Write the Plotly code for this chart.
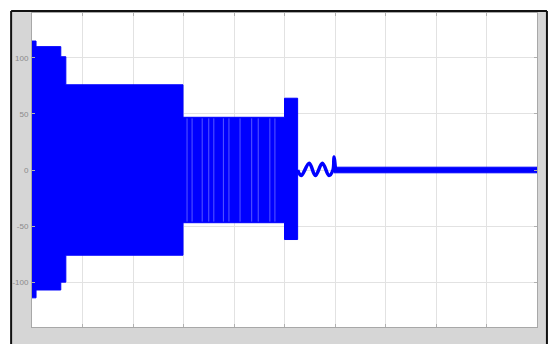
import plotly.graph_objects as go

# Envelope of the high-frequency signal: breakpoints (s) and peak values
env_t = [0.0, 0.008, 0.057, 0.067, 0.299, 0.500, 0.526]
env_upper = [115, 110, 101, 76, 47, 64]
env_lower = [-114, -107, -100, -76, -47, -62]

# Beat streaks visible inside the 47-amplitude section (s)
streak_t = [0.307, 0.317, 0.337, 0.350, 0.360, 0.379, 0.390, 0.412, 0.435,
            0.448, 0.471, 0.481]
streak_amp = 47

# Low-amplitude ripple after the pulse train dies out
ripple_t = [0.526, 0.533, 0.549, 0.561, 0.575, 0.588, 0.596, 0.598, 0.601]
ripple_v = [0, -5, 6, -5, 6, -5, 0, 11.5, 0]

# Residual steady band to the end of the record
tail_t = [0.598, 1.0]
tail_upper = [2.5, 2.5]
tail_lower = [-2.5, -2.5]

y_ticks = [100, 50, 0, -50, -100]
y_labels = ["100", "50", "0", "-50", "-100"]

BLUE = "#0000ff"

fig = go.Figure()


def step_xy(edges, values):
    xs, ys = [], []
    for i, v in enumerate(values):
        xs += [edges[i], edges[i + 1]]
        ys += [v, v]
    return xs, ys


lx, ly = step_xy(env_t, env_lower)
ux, uy = step_xy(env_t, env_upper)
fig.add_trace(go.Scatter(x=ux + lx[::-1], y=uy + ly[::-1], mode="lines",
                         fill="toself", fillcolor=BLUE,
                         line=dict(color=BLUE, width=1), hoverinfo="skip"))

# light vertical streaks from sampling beats
sx, sy = [], []
for t in streak_t:
    sx += [t, t, None]
    sy += [streak_amp - 1, -streak_amp + 1, None]
fig.add_trace(go.Scatter(x=sx, y=sy, mode="lines",
                         line=dict(color="rgba(110,110,255,0.8)", width=1),
                         hoverinfo="skip"))

fig.add_trace(go.Scatter(x=tail_t + tail_t[::-1], y=tail_upper + tail_lower[::-1],
                         mode="lines", fill="toself", fillcolor=BLUE,
                         line=dict(color=BLUE, width=1), hoverinfo="skip"))

fig.add_trace(go.Scatter(x=ripple_t, y=ripple_v, mode="lines",
                         line=dict(color=BLUE, width=3.5, shape="spline"),
                         hoverinfo="skip"))

# Plot area geometry in pixels (552 x 344 page)
L, R, T, B = 29, 537, 12, 327
W, H = R - L, B - T


def px_x(p):
    return (p - L) / W


def px_y(p):
    return (B - p) / H


shapes = [
    # grey window body
    dict(type="rect", xref="paper", yref="paper", layer="below",
         x0=px_x(8), x1=px_x(547), y0=px_y(344), y1=px_y(10),
         fillcolor="#d6d6d6", line=dict(width=0)),
    # white axes background
    dict(type="rect", xref="paper", yref="paper", layer="below",
         x0=0, x1=1, y0=0, y1=1, fillcolor="white", line=dict(width=0)),
    # dark window edges
    dict(type="line", xref="paper", yref="paper", x0=px_x(8), x1=px_x(547),
         y0=px_y(10), y1=px_y(10), line=dict(color="#111111", width=2)),
    dict(type="line", xref="paper", yref="paper", x0=px_x(8), x1=px_x(8),
         y0=px_y(10), y1=px_y(344), line=dict(color="#111111", width=2)),
    dict(type="line", xref="paper", yref="paper", x0=px_x(547), x1=px_x(547),
         y0=px_y(10), y1=px_y(344), line=dict(color="#111111", width=2)),
]

fig.update_layout(
    width=552, height=344,
    margin=dict(l=L, r=552 - R, t=T, b=344 - B),
    paper_bgcolor="white", plot_bgcolor="rgba(0,0,0,0)",
    showlegend=False, shapes=shapes,
    font=dict(family="Liberation Sans", size=8, color="#8a8a8a"),
)
fig.update_xaxes(range=[0, 1], dtick=0.1, showticklabels=False,
                 showgrid=True, gridcolor="#e2e2e2", gridwidth=1,
                 zeroline=False, showline=True, linecolor="#a8a8a8",
                 mirror="ticks", ticks="inside", ticklen=3, tickcolor="#b0b0b0")
fig.update_yaxes(range=[-140, 140], tickvals=y_ticks, ticktext=y_labels,
                 showgrid=True, gridcolor="#e2e2e2", gridwidth=1,
                 zeroline=False, showline=True, linecolor="#a8a8a8",
                 mirror="ticks", ticks="inside", ticklen=3, tickcolor="#b0b0b0",
                 ticklabelstandoff=1)

fig.write_html("out.html")
